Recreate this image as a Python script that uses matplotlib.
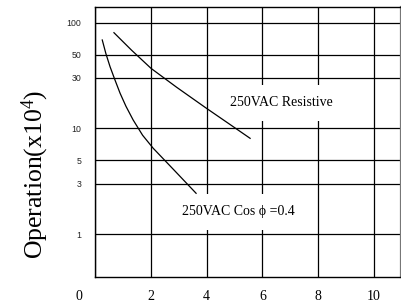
import matplotlib
matplotlib.use("Agg")
import matplotlib.pyplot as plt
import matplotlib.transforms as mtransforms

plt.rcParams['font.family'] = ['Liberation Serif', 'DejaVu Serif']
plt.rcParams['mathtext.default'] = 'regular'

# Data
res_x = [0.67, 1.3, 2.0, 2.92, 3.99, 4.77, 5.56]
res_y = [80.4, 55, 37.0, 24.5, 15.5, 11.2, 8.05]
cos_x = [0.25, 0.38, 0.53, 0.7, 0.89, 1.1, 1.36, 1.7, 2.08, 2.86, 3.62]
cos_y = [68.6, 51, 38.3, 29, 21.5, 16.2, 12.0, 8.6, 6.48, 3.95, 2.43]

x_ticks = [0, 2, 4, 6, 8, 10]
y_ticks = [1, 3, 5, 10, 30, 50, 100]
y_tick_labels = ['1', '3', '5', '10', '30', '50', '100']

fig = plt.figure(figsize=(4.02, 3.06), dpi=100)
ax = fig.add_axes([95.3 / 402, 29 / 306, 305.7 / 402, 270.3 / 306])
ax.set_yscale('log')
ax.set_xlim(0, 10.98)
ax.set_ylim(0.392, 141.7)

ax.set_xticks(x_ticks)
ax.set_xticklabels([str(v) for v in x_ticks], fontsize=10)
ax.set_yticks(y_ticks)
ax.set_yticklabels(y_tick_labels, family=['Liberation Sans', 'DejaVu Sans'],
                   fontsize=6.3, color='#222222')
ax.minorticks_off()
ax.tick_params(axis='both', length=0)
ax.tick_params(axis='y', pad=10)
ax.tick_params(axis='x', pad=9)

# shift the "0" label left
lab0 = ax.get_xticklabels()[0]
lab0.set_transform(lab0.get_transform() +
                   mtransforms.ScaledTranslation(-16 / 100, 0, fig.dpi_scale_trans))

ax.grid(True, which='major', color='black', linewidth=0.9)
ax.set_axisbelow(True)
for s in ax.spines.values():
    s.set_linewidth(1.0)
ax.spines['right'].set_color('#777777')
ax.spines['right'].set_linewidth(1.6)

ax.plot(res_x, res_y, color='black', linewidth=0.9, zorder=3)
ax.plot(cos_x, cos_y, color='black', linewidth=0.9, zorder=3)

box = dict(boxstyle='square,pad=0.8', fc='white', ec='none')
t1 = ax.text(0, 0, '250VAC Resistive', fontsize=10, ha='center', va='center',
             bbox=box, zorder=2.5)
t1.set_transform(mtransforms.IdentityTransform())
t1.set_position((281, 306 - 103))
t2 = ax.text(0, 0, '250VAC Cos \u03d5 =0.4', fontsize=10, ha='center', va='center',
             bbox=box, zorder=2.5)
t2.set_transform(mtransforms.IdentityTransform())
t2.set_position((238, 306 - 212))

fig.text(35 / 402, 1 - 174 / 306, 'Operation(x10$^4$)', rotation=90,
         fontsize=18.5, ha='center', va='center')

fig.savefig('out.png', dpi=100)
